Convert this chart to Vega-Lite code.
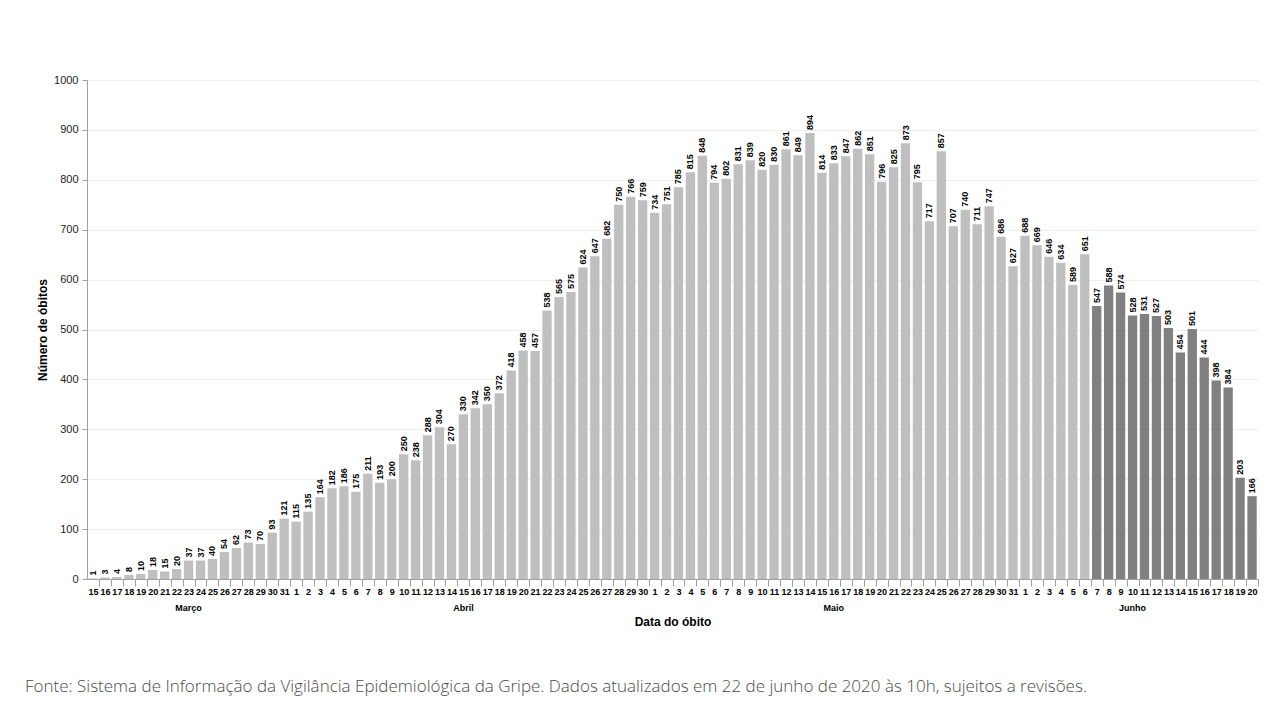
{
  "$schema": "https://vega.github.io/schema/vega-lite/v6.json",
  "width": 1171,
  "height": 499,
  "autosize": "none",
  "padding": {"left": 87, "top": 80, "right": 23, "bottom": 123},
  "background": "white",
  "title": {
    "text": "Fonte: Sistema de Informação da Vigilância Epidemiológica da Gripe. Dados atualizados em 22 de junho de 2020 às 10h, sujeitos a revisões.",
    "orient": "bottom",
    "anchor": "start",
    "frame": "group",
    "dx": -62,
    "offset": 52,
    "font": "Open Sans",
    "fontSize": 17,
    "fontWeight": 300,
    "color": "#4a4a4a"
  },
  "config": {"view": {"stroke": null}, "axis": {"ticks": true, "tickColor": "#a0a0a0", "tickWidth": 1}},
  "data": {"values": [
    {"d":"03-15","v":1,"g":"a"},{"d":"03-16","v":3,"g":"a"},{"d":"03-17","v":4,"g":"a"},{"d":"03-18","v":8,"g":"a"},{"d":"03-19","v":10,"g":"a"},{"d":"03-20","v":18,"g":"a"},{"d":"03-21","v":15,"g":"a"},{"d":"03-22","v":20,"g":"a"},{"d":"03-23","v":37,"g":"a"},{"d":"03-24","v":37,"g":"a"},{"d":"03-25","v":40,"g":"a"},{"d":"03-26","v":54,"g":"a"},{"d":"03-27","v":62,"g":"a"},{"d":"03-28","v":73,"g":"a"},{"d":"03-29","v":70,"g":"a"},{"d":"03-30","v":93,"g":"a"},{"d":"03-31","v":121,"g":"a"},
    {"d":"04-01","v":115,"g":"a"},{"d":"04-02","v":135,"g":"a"},{"d":"04-03","v":164,"g":"a"},{"d":"04-04","v":182,"g":"a"},{"d":"04-05","v":186,"g":"a"},{"d":"04-06","v":175,"g":"a"},{"d":"04-07","v":211,"g":"a"},{"d":"04-08","v":193,"g":"a"},{"d":"04-09","v":200,"g":"a"},{"d":"04-10","v":250,"g":"a"},{"d":"04-11","v":238,"g":"a"},{"d":"04-12","v":288,"g":"a"},{"d":"04-13","v":304,"g":"a"},{"d":"04-14","v":270,"g":"a"},{"d":"04-15","v":330,"g":"a"},{"d":"04-16","v":342,"g":"a"},{"d":"04-17","v":350,"g":"a"},{"d":"04-18","v":372,"g":"a"},{"d":"04-19","v":418,"g":"a"},{"d":"04-20","v":458,"g":"a"},{"d":"04-21","v":457,"g":"a"},{"d":"04-22","v":538,"g":"a"},{"d":"04-23","v":565,"g":"a"},{"d":"04-24","v":575,"g":"a"},{"d":"04-25","v":624,"g":"a"},{"d":"04-26","v":647,"g":"a"},{"d":"04-27","v":682,"g":"a"},{"d":"04-28","v":750,"g":"a"},{"d":"04-29","v":766,"g":"a"},{"d":"04-30","v":759,"g":"a"},
    {"d":"05-01","v":734,"g":"a"},{"d":"05-02","v":751,"g":"a"},{"d":"05-03","v":785,"g":"a"},{"d":"05-04","v":815,"g":"a"},{"d":"05-05","v":848,"g":"a"},{"d":"05-06","v":794,"g":"a"},{"d":"05-07","v":802,"g":"a"},{"d":"05-08","v":831,"g":"a"},{"d":"05-09","v":839,"g":"a"},{"d":"05-10","v":820,"g":"a"},{"d":"05-11","v":830,"g":"a"},{"d":"05-12","v":861,"g":"a"},{"d":"05-13","v":849,"g":"a"},{"d":"05-14","v":894,"g":"a"},{"d":"05-15","v":814,"g":"a"},{"d":"05-16","v":833,"g":"a"},{"d":"05-17","v":847,"g":"a"},{"d":"05-18","v":862,"g":"a"},{"d":"05-19","v":851,"g":"a"},{"d":"05-20","v":796,"g":"a"},{"d":"05-21","v":825,"g":"a"},{"d":"05-22","v":873,"g":"a"},{"d":"05-23","v":795,"g":"a"},{"d":"05-24","v":717,"g":"a"},{"d":"05-25","v":857,"g":"a"},{"d":"05-26","v":707,"g":"a"},{"d":"05-27","v":740,"g":"a"},{"d":"05-28","v":711,"g":"a"},{"d":"05-29","v":747,"g":"a"},{"d":"05-30","v":686,"g":"a"},{"d":"05-31","v":627,"g":"a"},
    {"d":"06-01","v":688,"g":"a"},{"d":"06-02","v":669,"g":"a"},{"d":"06-03","v":646,"g":"a"},{"d":"06-04","v":634,"g":"a"},{"d":"06-05","v":589,"g":"a"},{"d":"06-06","v":651,"g":"a"},{"d":"06-07","v":547,"g":"b"},{"d":"06-08","v":588,"g":"b"},{"d":"06-09","v":574,"g":"b"},{"d":"06-10","v":528,"g":"b"},{"d":"06-11","v":531,"g":"b"},{"d":"06-12","v":527,"g":"b"},{"d":"06-13","v":503,"g":"b"},{"d":"06-14","v":454,"g":"b"},{"d":"06-15","v":501,"g":"b"},{"d":"06-16","v":444,"g":"b"},{"d":"06-17","v":398,"g":"b"},{"d":"06-18","v":384,"g":"b"},{"d":"06-19","v":203,"g":"b"},{"d":"06-20","v":166,"g":"b"}
  ]},
  "layer": [
    {
      "mark": {"type": "bar"},
      "encoding": {
        "x": {
          "field": "d", "type": "ordinal",
          "scale": {"paddingInner": 0.22, "paddingOuter": 0.11},
          "axis": {
            "title": null,
            "labelExpr": "datum.value ? '' + parseInt(substring(datum.value, 3)) : ''",
            "labelAngle": 0,
            "labelFont": "Liberation Sans",
            "labelFontWeight": "bold",
            "labelFontSize": 9,
            "labelColor": "#000000",
            "labelOverlap": false,
            "labelBound": false,
            "labelPadding": 1,
            "ticks": true,
            "tickSize": 7,
            "tickOffset": 5.98,
            "labelOffset": -5.98,
            "domainColor": "#a0a0a0"
          }
        },
        "y": {
          "field": "v", "type": "quantitative",
          "scale": {"domain": [0, 1000]},
          "axis": {
            "values": [0,100,200,300,400,500,600,700,800,900,1000],
            "format": "d",
            "title": "Número de óbitos",
            "titleFont": "Liberation Sans",
            "titleFontSize": 12,
            "titleFontWeight": "bold",
            "titleColor": "#000000",
            "titlePadding": 4,
            "labelFont": "Liberation Sans",
            "labelFontSize": 11,
            "labelColor": "#222222",
            "labelPadding": 4,
            "tickSize": 5,
            "domainColor": "#a0a0a0",
            "gridColor": "#eeeeee"
          }
        },
        "color": {
          "field": "g", "type": "nominal",
          "scale": {"domain": ["a", "b"], "range": ["#bfbfbf", "#808080"]},
          "legend": null
        }
      }
    },
    {
      "mark": {"type": "text", "angle": 270, "align": "left", "baseline": "middle", "dx": 3, "font": "Liberation Sans", "fontWeight": "bold", "fontSize": 9, "color": "#000000"},
      "encoding": {
        "x": {
          "field": "d", "type": "ordinal",
          "axis": {
            "orient": "bottom",
            "values": ["03-23", "04-15", "05-16", "06-10"],
            "labelExpr": "datum.value == '03-23' ? 'Março' : datum.value == '04-15' ? 'Abril' : datum.value == '05-16' ? 'Maio' : 'Junho'",
            "labelAngle": 0,
            "labelFont": "Liberation Sans",
            "labelFontWeight": "bold",
            "labelFontSize": 9,
            "labelColor": "#000000",
            "labelPadding": 24,
            "ticks": false,
            "domain": false,
            "grid": false,
            "title": "Data do óbito",
            "titleFont": "Liberation Sans",
            "titleFontSize": 12,
            "titleFontWeight": "bold",
            "titleColor": "#000000",
            "titlePadding": 4
          }
        },
        "y": {"field": "v", "type": "quantitative"},
        "text": {"field": "v", "type": "quantitative"}
      }
    }
  ],
  "resolve": {"axis": {"x": "independent"}}
}
